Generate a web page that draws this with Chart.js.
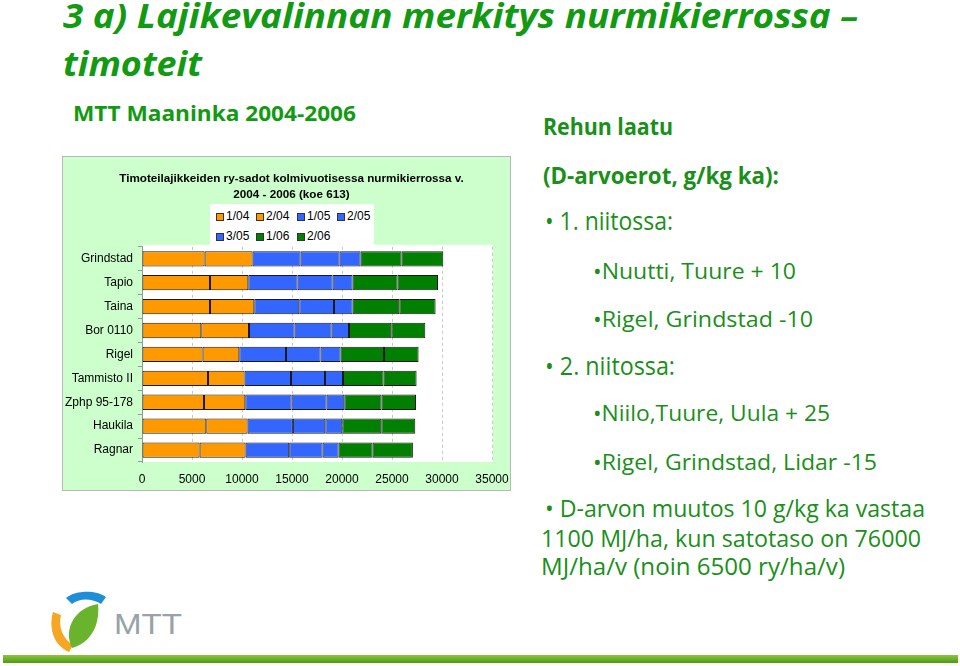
<!DOCTYPE html>
<html>
<head>
<meta charset="utf-8">
<script src="https://cdn.jsdelivr.net/npm/chart.js@4.4.1/dist/chart.umd.min.js"></script>
<style>
body{margin:0;width:960px;height:666px;background:#fff;position:relative;overflow:hidden;font-family:"Open Sans",sans-serif;}
.t{position:absolute;white-space:nowrap;line-height:1;transform-origin:0 0;color:#1a8f1a;}
#box{position:absolute;left:62px;top:156px;width:447px;height:333px;border:1px solid #b8b8b8;background:#ccffcc;}
#c{display:block;}
#legend{position:absolute;left:210px;top:204px;width:164px;height:43px;background:#fff;font-family:"Liberation Sans",Arial,sans-serif;font-size:12px;color:#000;}
.li{position:absolute;line-height:1;}
.li span{position:absolute;left:0;top:2px;width:6px;height:6px;border:1px solid #333;}
.li b{font-weight:normal;position:absolute;left:10px;top:-1px;}
#bar{position:absolute;left:3px;top:655px;width:955px;height:8px;background:linear-gradient(#8cc63f,#4f9a14);}
</style>
</head>
<body>
<div id="box"><canvas id="c" width="447" height="333"></canvas></div>
<div id="legend"></div>
<svg style="position:absolute;left:46px;top:590px" width="145" height="64" viewBox="0 0 145 64">
<path d="M20 8 C30 0 50 0 60 7 L55 14 C46 8 33 8 26 14 Z" fill="#1e8fd6"/>
<path d="M7 22 C2 40 9 56 23 62 L27 55 C17 49 12 37 15 25 Z" fill="#f5a623"/>
<path d="M26 58 C17 40 28 18 52 14 C54 34 46 52 26 58 Z" fill="#6ab42d"/>
<text x="68" y="44" font-family="Liberation Sans Narrow,Liberation Sans,sans-serif" font-size="30" fill="#98a2a8" textLength="68" lengthAdjust="spacingAndGlyphs">MTT</text>
</svg>
<div id="bar"></div>
<script>
const categories=["Grindstad","Tapio","Taina","Bor 0110","Rigel","Tammisto II","Zphp 95-178","Haukila","Ragnar"];
const harvests=["1/04","2/04","1/05","2/05","3/05","1/06","2/06"];
const colors=["#FF9900","#FF9900","#3366FF","#3366FF","#3366FF","#007F00","#007F00"];

const h1_04=[6260,6800,6800,5930,6060,6600,6200,6430,5760];
const h2_04=[4800,3830,4430,4770,3670,3660,4130,4130,4600];
const h1_05=[4800,4930,4500,4560,4670,4640,4630,4530,4360];
const h2_05=[3900,3500,3470,3700,3460,3400,3500,3240,3340];
const h3_05=[2100,2000,1860,1740,2000,1800,1770,1700,1600];
const h1_06=[4100,4500,4670,4230,4340,4060,3730,3900,3400];
const h2_06=[4170,4040,3630,3400,3460,3300,3440,3400,4030];
const series=[h1_04,h2_04,h1_05,h2_05,h3_05,h1_06,h2_06];

const xTicks=[0,5000,10000,15000,20000,25000,30000,35000];

// slide texts: text, x, baseline, size, target width, bold, italic
const texts=[
["3 a) Lajikevalinnan merkitys nurmikierrossa \u2013",63,28,34,795,1,1,"#129a12"],
["timoteit",63,76,34,139,1,1,"#129a12"],
["MTT Maaninka 2004-2006",73,122,21,283,1,0,"#129a12"],
["Rehun laatu",543,135,24,130,1,0],
["(D-arvoerot, g/kg ka):",543,184,24,236,1,0],
["\u2022 1. niitossa:",545,230,25,128,0,0],
["\u2022Nuutti, Tuure + 10",593,279,22,203,0,0],
["\u2022Rigel, Grindstad -10",593,327,22,220,0,0],
["\u2022 2. niitossa:",545,375,25,130,0,0],
["\u2022Niilo,Tuure, Uula + 25",593,421,22,237,0,0],
["\u2022Rigel, Grindstad, Lidar -15",593,470,22,284,0,0],
["\u2022 D-arvon muutos 10 g/kg ka vastaa",545,517,24,380,0,0],
["1100 MJ/ha, kun satotaso on 76000",541,547,24,380,0,0],
["MJ/ha/v (noin 6500 ry/ha/v)",541,575,24,304,0,0]
];

const els=[];
texts.forEach(t=>{
const d=document.createElement("div");
d.className="t";
d.textContent=t[0];
d.style.left=t[1]+"px";
d.style.top=(t[2]-0.888*t[3])+"px";
d.style.fontSize=t[3]+"px";
d.style.fontWeight=t[5]?"bold":"normal";
d.style.fontStyle=t[6]?"italic":"normal";
if(t[7]) d.style.color=t[7];
document.body.appendChild(d);
els.push([d,t[4]]);
});

const fit=()=>{
els.forEach(([d,w])=>{
d.style.transform="none";
const r=d.getBoundingClientRect().width;
d.style.transform="scaleX("+(w/r)+")";
});
};
fit();
if(document.fonts) document.fonts.ready.then(fit);

// legend
const lg=document.getElementById("legend");
const lx=[6,46,87,127];
harvests.forEach((h,i)=>{
const it=document.createElement("div");
it.className="li";
it.style.left=lx[i%4]+"px";
it.style.top=(i<4?7:27)+"px";
it.innerHTML='<span style="background:'+colors[i]+'"></span><b>'+h+'</b>';
lg.appendChild(it);
});

const whiteArea={
id:"whiteArea",
afterLayout(chart){
// chart title sits a bit right of centre in the original
if(chart.titleBlock){chart.titleBlock.left+=14;chart.titleBlock.right+=14;}
},
beforeDraw(chart){
const a=chart.chartArea;
chart.ctx.save();
chart.ctx.fillStyle="#fff";
chart.ctx.fillRect(a.left,a.top-2,a.right-a.left+1,a.bottom-a.top+2);
chart.ctx.restore();
}
};

const font={family:"'Liberation Sans', Arial, sans-serif",size:12};

new Chart(document.getElementById("c"),{
type:"bar",
data:{
labels:categories,
datasets:harvests.map((h,i)=>({
label:h,
data:series[i],
backgroundColor:colors[i],
borderColor:"#1a1a1a",
borderWidth:1,
borderSkipped:false,
barPercentage:0.64,
categoryPercentage:1
}))
},
options:{
indexAxis:"y",
responsive:false,
animation:false,
layout:{padding:{left:0,right:18,top:0,bottom:0}},
plugins:{
legend:{display:false},
tooltip:{enabled:false},
title:{
display:true,
text:["Timoteilajikkeiden ry-sadot kolmivuotisessa nurmikierrossa v.","2004 - 2006 (koe 613)"],
color:"#000",
font:{family:"'Liberation Sans', Arial, sans-serif",size:11.7,weight:"bold",lineHeight:1.36},
padding:{top:14,bottom:44}
}
},
scales:{
x:{
stacked:true,
min:0,
max:35000,
afterBuildTicks:s=>{s.ticks=xTicks.map(v=>({value:v}));},
afterFit:s=>{s.height=28;s.paddingLeft=0;s.paddingRight=0;},
ticks:{color:"#000",font:font,padding:10,maxRotation:0,callback:v=>String(v)},
grid:{color:"#c8c8c8",drawTicks:false},
border:{display:false,dash:[3,3]}
},
y:{
stacked:true,
afterFit:s=>{s.width=79;},
ticks:{color:"#000",font:font,padding:5},
grid:{display:true,drawOnChartArea:false,tickLength:4,color:"#999",offset:true},
border:{display:true,color:"#999"}
}
}
},
plugins:[whiteArea]
});
</script>
</body>
</html>
